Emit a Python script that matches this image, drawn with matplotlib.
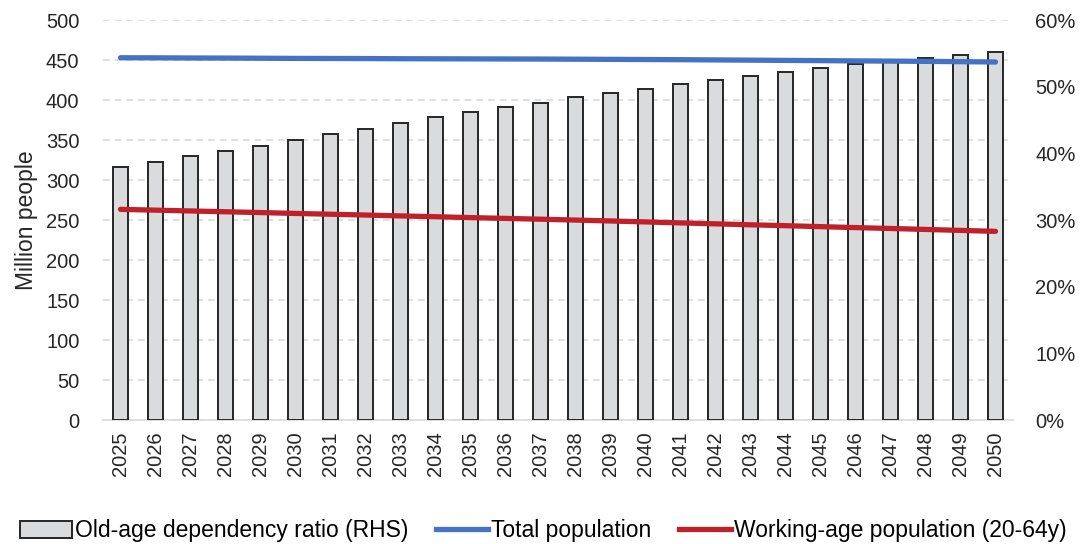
import matplotlib
matplotlib.use("Agg")
import matplotlib.pyplot as plt
from matplotlib.ticker import FuncFormatter
from matplotlib.patches import Patch
from matplotlib.lines import Line2D

years = [str(y) for y in range(2025, 2051)]
dependency_ratio = [38.0, 38.75, 39.55, 40.3, 41.1, 42.0, 42.85, 43.7, 44.5, 45.4,
                    46.2, 46.9, 47.6, 48.4, 49.05, 49.7, 50.4, 51.0, 51.6, 52.2,
                    52.8, 53.35, 53.9, 54.35, 54.75, 55.15]
total_population = [452.8, 452.7, 452.5, 452.4, 452.2, 452.0, 451.9, 451.8, 451.6, 451.5,
                    451.4, 451.3, 451.2, 451.0, 450.8, 450.6, 450.4, 450.1, 449.8, 449.5,
                    449.2, 448.9, 448.6, 448.3, 447.9, 447.5]
working_age = [263.3, 262.3, 261.3, 260.3, 259.3, 258.2, 257.2, 256.2, 255.1, 254.1,
               253.0, 252.0, 251.0, 249.9, 248.8, 247.6, 246.4, 245.2, 244.0, 242.9,
               241.7, 240.5, 239.4, 238.2, 237.0, 235.8]
left_ticks = [0, 50, 100, 150, 200, 250, 300, 350, 400, 450, 500]
right_ticks = [0, 10, 20, 30, 40, 50, 60]

plt.rcParams['font.family'] = ['Liberation Sans', 'DejaVu Sans']
FS = 14.5

fig = plt.figure(figsize=(10.87, 5.44), dpi=100)
pos = [103/1087, 1 - 420/544, (1013-103)/1087, 400/544]
ax = fig.add_axes(pos)
x = list(range(len(years)))

ax.set_ylim(0, 500)
ax.set_yticks(left_ticks)
ax.set_xlim(-0.5, len(years) - 0.5)
ax.set_xticks(x)
ax.set_xticklabels(years, rotation=90, fontsize=FS, color='#262626')
ax.tick_params(axis='y', labelsize=FS, colors='#262626', length=0, pad=17)
ax.tick_params(axis='x', length=0, pad=8)
ax.grid(axis='y', color='#d9d9d9', linestyle=(0, (4, 3)), linewidth=1.2)
ax.set_axisbelow(True)
ax.set_ylabel('Million people', fontsize=16.5, color='#262626', labelpad=6)
for s in ['top', 'right', 'left']:
    ax.spines[s].set_visible(False)
ax.spines['bottom'].set_color('#d9d9d9')
ax.spines['bottom'].set_linewidth(1.2)

ax2 = ax.twinx()
ax2.bar(x, dependency_ratio, width=0.42, color='#dadbdc', edgecolor='#262626',
        linewidth=1.4, zorder=2)
ax2.set_ylim(0, 60)
ax2.set_yticks(right_ticks)
ax2.yaxis.set_major_formatter(FuncFormatter(lambda v, p: f'{int(v)}%'))
ax2.tick_params(axis='y', labelsize=FS, colors='#262626', length=0, pad=16)
for s in ['top', 'right', 'left', 'bottom']:
    ax2.spines[s].set_visible(False)

ax3 = fig.add_axes(pos, sharex=ax, sharey=ax)
ax3.patch.set_visible(False)
ax3.axis('off')
ax3.plot(x, total_population, color='#4472c4', linewidth=3.8, solid_capstyle='round')
ax3.plot(x, working_age, color='#c0202a', linewidth=3.8, solid_capstyle='round')

handles = [Patch(facecolor='#dadbdc', edgecolor='#262626', linewidth=1.4),
           Line2D([0], [0], color='#4472c4', linewidth=3.8),
           Line2D([0], [0], color='#c0202a', linewidth=3.8)]
labels = ['Old-age dependency ratio (RHS)', 'Total population',
          'Working-age population (20-64y)']
fig.legend(handles, labels, loc='lower center', bbox_to_anchor=(0.5, -0.035),
           ncol=3, frameon=False, handlelength=2.25, handleheight=0.8,
           handletextpad=0.15, columnspacing=1.2,
           prop={'family': ['Liberation Sans'], 'size': 16.5})

fig.savefig('out.png', dpi=100)
